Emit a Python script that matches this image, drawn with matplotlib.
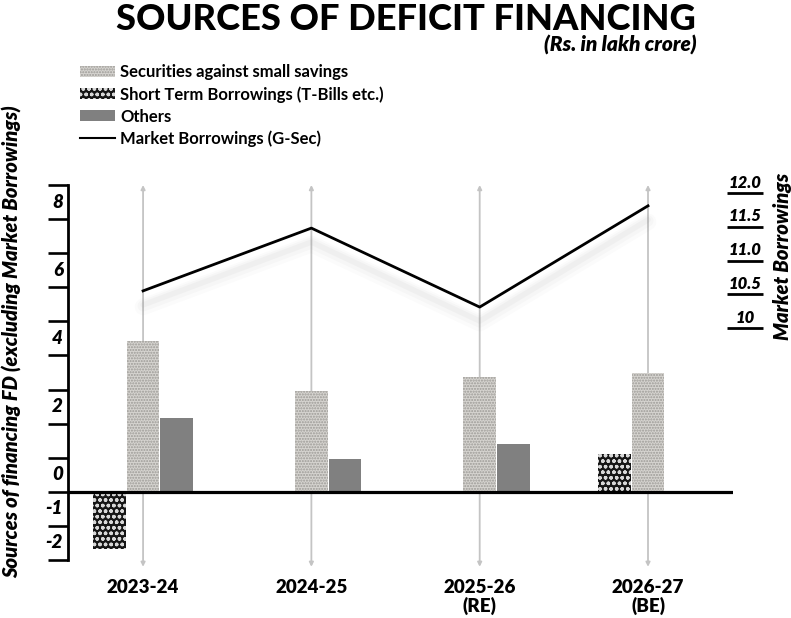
import matplotlib
matplotlib.use('Agg')
import matplotlib.pyplot as plt
import numpy as np
from matplotlib import transforms
from matplotlib.patches import Patch
from matplotlib.lines import Line2D

# ---------------- data ----------------
years = ['2023-24', '2024-25', '2025-26\n(RE)', '2026-27\n(BE)']
securities = [4.43, 2.97, 3.38, 3.49]
tbills = [-1.67, 0.0, 0.0, 1.11]
others = [2.18, 0.95, 1.40, 0.0]
market_borrowings = [10.55, 11.48, 10.31, 11.81]
left_tick_values = [8, 6, 4, 2, 0, -1, -2]
left_tick_labels = ['8', '6', '4', '2', '0', '-1', '-2']
right_tick_values = [12.0, 11.5, 11.0, 10.5, 10.0]
right_tick_labels = ['12.0', '11.5', '11.0', '10.5', '10']

plt.rcParams['font.family'] = ['Lato', 'DejaVu Sans']
plt.rcParams['hatch.linewidth'] = 1.0

W, H = 791, 618
fig = plt.figure(figsize=(W / 100, H / 100), dpi=100)
ax = fig.add_axes([68 / W, 1 - 560 / H, (733 - 68) / W, (560 - 185) / H])
ax.set_ylim(-2, 9)
ax.set_xlim(-0.446, 3.505)

x = np.arange(len(years))
bw = 0.193

# vertical gray arrows
for xi in x:
    ax.annotate('', xy=(xi, 9.0), xytext=(xi, -2.2), xycoords='data',
                arrowprops=dict(arrowstyle='<|-|>', color='#c4c4c4', lw=1.3,
                                mutation_scale=6, shrinkA=0, shrinkB=0),
                annotation_clip=False, zorder=1)

b_sec = ax.bar(x, securities, bw, color='#d6d4d0', edgecolor='#9c9a96',
               hatch='......', linewidth=0, zorder=3)
b_tb = ax.bar(x - 0.2, tbills, bw, color='#161616', edgecolor='#d8d8d8',
              hatch='ooo', linewidth=0, zorder=3)
b_oth = ax.bar(x + 0.2, others, bw, color='#808080', linewidth=0, zorder=3)

ax.axhline(0, color='black', lw=2.3, zorder=4)

# spines / ticks
for s in ['top', 'right', 'bottom']:
    ax.spines[s].set_visible(False)
ax.spines['left'].set_linewidth(2.0)
ax.set_yticks(range(-2, 10))
ax.set_yticklabels([])
ax.tick_params(axis='y', direction='out', length=14.5, width=1.9, color='black')
ax.set_xticks(x)
ax.set_xticklabels(years, fontsize=13.5, fontweight='heavy', linespacing=1.0)
ax.tick_params(axis='x', length=0, pad=14)

tr = transforms.blended_transform_factory(ax.transAxes, ax.transData)
for v, lab in zip(left_tick_values, left_tick_labels):
    ax.text(-5 / 665, v + 0.5, lab, transform=tr, ha='right', va='center',
            fontsize=13.5, fontweight='heavy', style='italic')

# right axis for market borrowings
ax2 = ax.twinx()
ax2.set_ylim(10 - 232 / 67.5, 10 + 143 / 67.5)
ax2.axis('off')

for k, (dy, a) in enumerate([(14, 0.05), (15, 0.04), (16, 0.03)]):
    off = transforms.offset_copy(ax2.transData, fig=fig, x=0, y=-dy, units='dots')
    ax2.plot(x, market_borrowings, color='#808080', lw=4 + 4 * k, alpha=a,
             solid_joinstyle='round', solid_capstyle='round', transform=off, zorder=2)
ax2.plot(x, market_borrowings, color='black', lw=2.0, zorder=5)

tr2 = transforms.blended_transform_factory(ax.transAxes, ax2.transData)
for v, lab in zip(right_tick_values, right_tick_labels):
    ax2.plot([(727 - 68) / 665, (763 - 68) / 665], [v, v], color='black', lw=2.0,
             transform=tr2, clip_on=False, solid_capstyle='butt')
    ax2.text((745 - 68) / 665, v + 10.5 / 67.5, lab, transform=tr2, ha='center',
             va='center', fontsize=12, fontweight='heavy', style='italic')

fig.text(782 / W, 1 - 256 / H, 'Market Borrowings', rotation=90, ha='center',
         va='center', fontsize=14.5, fontweight='heavy', style='italic')
fig.text(12 / W, 1 - 342 / H, 'Sources of financing FD (excluding Market Borrowings)',
         rotation=90, ha='center', va='center', fontsize=14.5, fontweight='heavy',
         style='italic')

# title
title = fig.text(406 / W, 1 - 30 / H, 'SOURCES OF DEFICIT FINANCING', ha='center',
                 va='baseline', fontsize=30, fontweight='black')
fig.canvas.draw()
wpx = title.get_window_extent().width
title.set_fontsize(30 * 578 / wpx)
fig.text(697 / W, 1 - 52 / H, '(Rs. in lakh crore)', ha='right', va='baseline',
         fontsize=15, fontweight='heavy', style='italic')

# legend
handles = [Patch(facecolor='#d6d4d0', edgecolor='#9c9a96', hatch='......', linewidth=0),
           Patch(facecolor='#161616', edgecolor='#d8d8d8', hatch='ooo', linewidth=0),
           Patch(facecolor='#808080', linewidth=0),
           Line2D([0], [0], color='black', lw=1.5)]
labels = ['Securities against small savings', 'Short Term Borrowings (T-Bills etc.)',
          'Others', 'Market Borrowings (G-Sec)']
leg = fig.legend(handles, labels, loc='upper left', bbox_to_anchor=(80 / W, 1 - 64 / H),
                 frameon=False, borderpad=0, borderaxespad=0, handlelength=2.1,
                 handleheight=0.65, handletextpad=0.3, labelspacing=0.36,
                 prop=dict(size=12, weight='bold'))

fig.savefig('out.png', dpi=100)
